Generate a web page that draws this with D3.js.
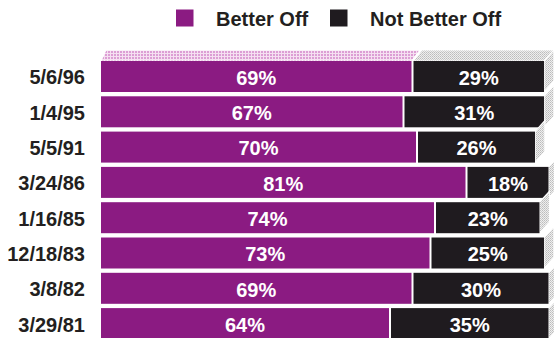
<!DOCTYPE html>
<html>
<head>
<meta charset="utf-8">
<script src="https://cdn.jsdelivr.net/npm/d3@7"></script>
<style>
  html, body { margin: 0; padding: 0; background: #ffffff; }
  svg { display: block; }
  text { font-family: "Liberation Sans", Arial, Helvetica, sans-serif; font-weight: bold; }
</style>
</head>
<body>
<svg id="chart" width="554" height="338"></svg>
<script>
// Poll dates, most recent first
const dates = ["5/6/96", "1/4/95", "5/5/91", "3/24/86", "1/16/85", "12/18/83", "3/8/82", "3/29/81"];
// Share saying they are better off / not better off (%)
const betterOff    = [69, 67, 70, 81, 74, 73, 69, 64];
const notBetterOff = [29, 31, 26, 18, 23, 25, 30, 35];
const seriesNames  = ["Better Off", "Not Better Off"];

const colors = { better: "#8b1b82", notBetter: "#1f1b1f" };
const gap = 2;       // white seam between the two segments
const depthY = 11;   // vertical depth of the 3D faces

const svg = d3.select("#chart");

// textures for the receding faces
const defs = svg.append("defs");
const pink = defs.append("pattern").attr("id", "pinkDots")
  .attr("width", 3).attr("height", 3).attr("patternUnits", "userSpaceOnUse");
pink.append("rect").attr("width", 3).attr("height", 3).attr("fill", "#f5e0f1");
pink.append("rect").attr("width", 2).attr("height", 2).attr("fill", "#dc9ed4");
const grey = defs.append("pattern").attr("id", "greyDots")
  .attr("width", 2).attr("height", 2).attr("patternUnits", "userSpaceOnUse");
grey.append("rect").attr("width", 2).attr("height", 2).attr("fill", "#eeeeee");
grey.append("rect").attr("width", 1).attr("height", 1).attr("fill", "#bcbcbc");
grey.append("rect").attr("x", 1).attr("y", 1).attr("width", 1).attr("height", 1).attr("fill", "#cbcbcb");

const x = d3.scaleLinear().domain([0, 100]).range([101, 551]);
const y = d3.scaleBand().domain(dates).range([61, 339.1]).paddingInner(0.122).paddingOuter(0);

// horizontal depth grows toward the right, like a slight perspective
const depthX = px => 5 + (px - x(0)) * 5 / 445;

const rows = dates.map((d, i) => ({ date: d, b: betterOff[i], n: notBetterOff[i] }));

const poly = pts => pts.map(p => p.join(",")).join(" ");

// top faces of the first bar
{
  const r = rows[0];
  const y0 = y(r.date);
  const x0 = x(0), xp = x(r.b), xs = xp + gap, xe = x(r.b + r.n) + gap;
  svg.append("polygon")
    .attr("points", poly([[x0, y0], [x0 + depthX(x0), y0 - depthY], [xp + depthX(xp), y0 - depthY], [xp, y0]]))
    .attr("fill", "url(#pinkDots)").attr("stroke", "#fff").attr("stroke-width", 1);
  svg.append("polygon")
    .attr("points", poly([[xs, y0], [xs + depthX(xs), y0 - depthY], [xe + depthX(xe), y0 - depthY], [xe, y0]]))
    .attr("fill", "url(#greyDots)").attr("stroke", "#fff").attr("stroke-width", 1);
}

const g = svg.append("g");
rows.forEach(r => {
  const y0 = y(r.date), y1 = y0 + y.bandwidth();
  const xp = x(r.b), xs = xp + gap, xe = x(r.b + r.n) + gap;
  const dx = depthX(xe);
  // right side face
  g.append("polygon")
    .attr("points", poly([[xe, y0], [xe + dx, y0 - depthY], [xe + dx, y1 - depthY], [xe, y1]]))
    .attr("fill", "url(#greyDots)").attr("stroke", "#fff").attr("stroke-width", 1.2);
  // front faces
  g.append("rect").attr("x", x(0)).attr("y", y0).attr("width", xp - x(0)).attr("height", y.bandwidth())
    .attr("fill", colors.better);
  g.append("rect").attr("x", xs).attr("y", y0).attr("width", xe - xs).attr("height", y.bandwidth())
    .attr("fill", colors.notBetter);
  // value labels
  g.append("text").attr("x", (x(0) + xp) / 2).attr("y", (y0 + y1) / 2 + 1)
    .attr("text-anchor", "middle").attr("dy", "0.36em")
    .attr("font-size", 20).attr("fill", "#fff").text(r.b + "%");
  g.append("text").attr("x", (xs + xe) / 2).attr("y", (y0 + y1) / 2 + 1)
    .attr("text-anchor", "middle").attr("dy", "0.36em")
    .attr("font-size", 20).attr("fill", "#fff").text(r.n + "%");
});

// category axis
const yAxis = d3.axisLeft(y).tickSize(0).tickPadding(0);
const ax = svg.append("g").attr("transform", "translate(85,1.5)").call(yAxis);
ax.select(".domain").remove();
ax.selectAll("text").attr("font-size", 20).attr("fill", "#231f20")
  .attr("font-family", "'Liberation Sans', Arial, sans-serif").attr("font-weight", "bold");

// legend
const legend = svg.append("g");
const legendItems = [
  { name: seriesNames[0], color: colors.better, x: 176 },
  { name: seriesNames[1], color: colors.notBetter, x: 330 }
];
legendItems.forEach(it => {
  legend.append("rect").attr("x", it.x).attr("y", 9.5).attr("width", 17.5).attr("height", 17)
    .attr("fill", it.color);
  legend.append("text").attr("x", it.x + 40).attr("y", 25.5)
    .attr("font-size", 20).attr("fill", "#231f20").text(it.name);
});
</script>
</body>
</html>
